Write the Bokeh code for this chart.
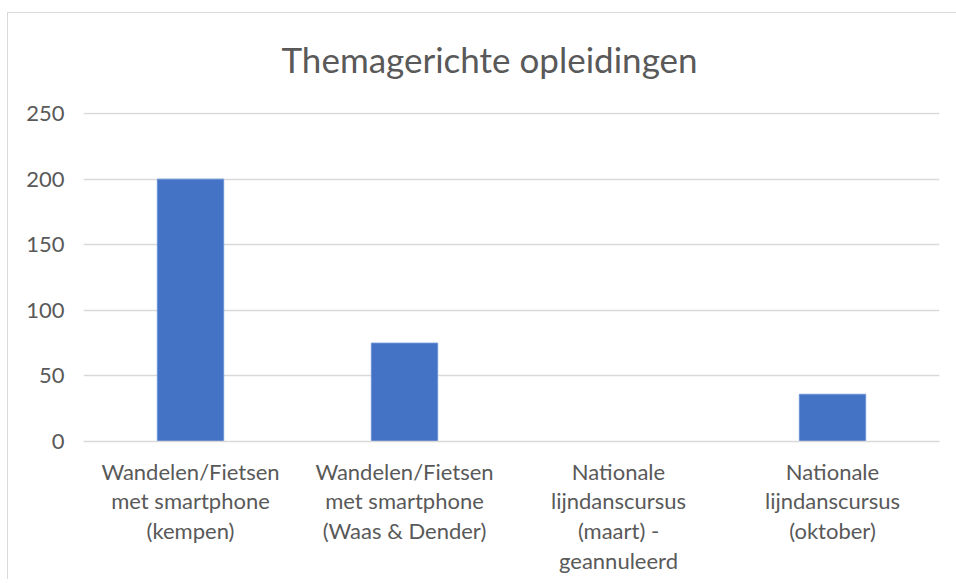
from bokeh.plotting import figure
from bokeh.models import Range1d, FactorRange, FixedTicker
from bokeh.embed import file_html
from bokeh.resources import INLINE

categories = [
    "Wandelen/Fietsen\nmet smartphone\n(kempen)",
    "Wandelen/Fietsen\nmet smartphone\n(Waas & Dender)",
    "Nationale\nlijndanscursus\n(maart) -\ngeannuleerd",
    "Nationale\nlijndanscursus\n(oktober)",
]
values = [200, 75, 0, 36]
y_ticks = [0, 50, 100, 150, 200, 250]
title_text = "Themagerichte opleidingen"

FONT = "Lato"
GREY = "#595959"
GRID = "#d9d9d9"

p = figure(
    width=949, height=579,
    x_range=FactorRange(*categories, range_padding=0),
    y_range=Range1d(0, 250.8),
    output_backend="svg", toolbar_location=None,
    min_border_left=76, min_border_right=17,
    min_border_top=112, min_border_bottom=138,
    title=title_text,
)
p.border_fill_color = None
p.styles = {
    "margin-left": "7px",
    "background-image": "linear-gradient(#d9d9d9, #d9d9d9), linear-gradient(#d9d9d9, #d9d9d9)",
    "background-repeat": "no-repeat",
    "background-position": "0px 12px, 0px 12px",
    "background-size": "100% 1px, 1px 100%",
}

p.vbar(x=categories, top=values, width=0.31, fill_color="#4472C4",
       line_color="#6a93d6", line_width=1)

p.title.text_font = FONT
p.title.text_font_size = "35px"
p.title.text_font_style = "normal"
p.title.text_color = GREY
p.title.align = "left"
p.title.offset = 198
p.title.standoff = 66

p.outline_line_color = None
p.xgrid.grid_line_color = None
p.ygrid.grid_line_color = GRID
p.ygrid.grid_line_width = 1.3
p.ygrid.ticker = FixedTicker(ticks=y_ticks)

p.yaxis.ticker = FixedTicker(ticks=y_ticks)
p.yaxis.axis_line_color = None
p.yaxis.major_tick_line_color = None
p.yaxis.minor_tick_line_color = None
p.yaxis.major_tick_out = 0
p.yaxis.major_label_standoff = 19
p.yaxis.major_label_text_font = FONT
p.yaxis.major_label_text_font_size = "22px"
p.yaxis.major_label_text_color = GREY

p.xaxis.axis_line_color = GRID
p.xaxis.axis_line_width = 1.5
p.xaxis.major_tick_line_color = None
p.xaxis.minor_tick_line_color = None
p.xaxis.major_tick_out = 0
p.xaxis.major_label_standoff = 16
p.xaxis.major_label_text_font = FONT
p.xaxis.major_label_text_font_size = "22px"
p.xaxis.major_label_text_color = GREY
p.xaxis.major_label_text_line_height = 1.1

open("out.html", "w").write(file_html(p, INLINE))
